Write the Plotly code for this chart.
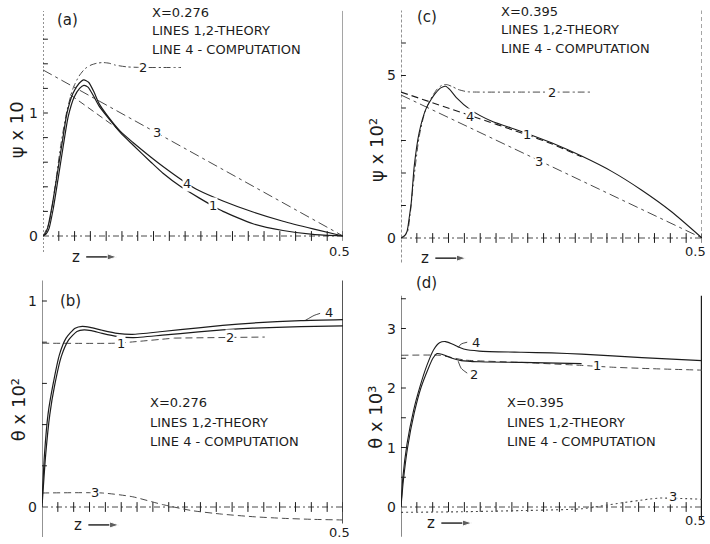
import plotly.graph_objects as go

W, H = 710, 544
FONT = "DejaVu Sans"
INK = "#1c1c1c"
GREY = "#4a4a4a"

# ---------------- data ----------------
# (a) psi x 10 at X = 0.276
a_z4 = [0, 0.004, 0.008, 0.015, 0.023, 0.032, 0.04, 0.05, 0.06, 0.068, 0.076, 0.085, 0.093, 0.107,
        0.129, 0.15, 0.18, 0.2, 0.236, 0.26, 0.3, 0.35, 0.4, 0.45, 0.5]
a_p4 = [0, 0.02, 0.07, 0.24, 0.48, 0.76, 1.0, 1.16, 1.24, 1.27, 1.25, 1.17, 1.08, 0.98,
        0.85, 0.76, 0.64, 0.565, 0.44, 0.37, 0.285, 0.195, 0.12, 0.058, 0]
a_z1 = [0, 0.005, 0.01, 0.017, 0.025, 0.034, 0.042, 0.052, 0.061, 0.068, 0.075, 0.084, 0.093, 0.107,
        0.129, 0.15, 0.18, 0.2, 0.23, 0.26, 0.283, 0.3, 0.35, 0.4, 0.45, 0.5]
a_p1 = [0, 0.015, 0.06, 0.22, 0.46, 0.74, 0.97, 1.13, 1.2, 1.225, 1.21, 1.14, 1.06, 0.97,
        0.84, 0.74, 0.6, 0.51, 0.4, 0.31, 0.245, 0.2, 0.1, 0.045, 0.013, 0]
a_z1o = [0.045, 0.125]
a_p1o = [1.15, 0.87]
a_z2 = [0, 0.01, 0.02, 0.03, 0.04, 0.05, 0.06, 0.07, 0.08, 0.09, 0.1, 0.11, 0.12, 0.14, 0.17, 0.2, 0.23]
a_p2 = [0, 0.1, 0.4, 0.75, 1.02, 1.2, 1.3, 1.36, 1.39, 1.405, 1.41, 1.405, 1.39, 1.375, 1.37, 1.37, 1.37]
a_z3 = [0, 0.5]
a_p3 = [1.35, 0]

# (c) psi x 10^2 at X = 0.395
c_z4 = [0, 0.005, 0.01, 0.014, 0.017, 0.022, 0.03, 0.041, 0.05, 0.057, 0.066, 0.074, 0.082, 0.092,
        0.115, 0.15, 0.2, 0.25, 0.3, 0.35, 0.4, 0.45, 0.5]
c_p4 = [0, 0.05, 0.2, 0.67, 1.08, 2.21, 3.23, 3.95, 4.26, 4.45, 4.62, 4.67, 4.55, 4.32,
        3.95, 3.6, 3.28, 2.93, 2.52, 2.05, 1.47, 0.8, 0]
c_z1 = [0, 0.115, 0.21, 0.25, 0.3]
c_p1 = [4.49, 3.77, 3.17, 2.9, 2.5]
c_z2 = [0, 0.01, 0.015, 0.02, 0.03, 0.04, 0.05, 0.06, 0.068, 0.076, 0.085, 0.095, 0.11, 0.13, 0.2, 0.25, 0.314]
c_p2 = [0, 0.15, 0.7, 1.6, 3.1, 3.9, 4.3, 4.58, 4.7, 4.72, 4.66, 4.57, 4.5, 4.49, 4.49, 4.49, 4.49]
c_z3 = [0, 0.5]
c_p3 = [4.4, 0]

# (b) theta x 10^2 at X = 0.276
b_z4 = [0, 0.004, 0.01, 0.018, 0.029, 0.04, 0.055, 0.067, 0.08, 0.1, 0.125, 0.15, 0.2, 0.26,
        0.3, 0.35, 0.43, 0.5]
b_t4 = [0.02, 0.25, 0.45, 0.59, 0.74, 0.82, 0.868, 0.877, 0.872, 0.858, 0.843, 0.838, 0.852, 0.87,
        0.882, 0.893, 0.905, 0.91]
b_z1 = [0, 0.006, 0.013, 0.021, 0.032, 0.044, 0.058, 0.07, 0.082, 0.1, 0.125, 0.15, 0.2, 0.26,
        0.3, 0.35, 0.43, 0.5]
b_t1 = [0, 0.25, 0.45, 0.59, 0.73, 0.81, 0.852, 0.86, 0.856, 0.843, 0.828, 0.822, 0.834, 0.85,
        0.86, 0.868, 0.876, 0.879]
b_z1o = [0, 0.12, 0.145, 0.22]
b_t1o = [0.795, 0.795, 0.8, 0.82]
b_z2 = [0.22, 0.37]
b_t2 = [0.82, 0.825]
b_z3 = [0, 0.1, 0.15, 0.2, 0.25, 0.3, 0.35, 0.4, 0.45, 0.5]
b_t3 = [0.068, 0.068, 0.05, 0.012, -0.018, -0.035, -0.047, -0.055, -0.06, -0.063]

# (d) theta x 10^3 at X = 0.395
d_z4 = [0, 0.003, 0.01, 0.021, 0.032, 0.043, 0.054, 0.064, 0.074, 0.085, 0.106, 0.13, 0.2, 0.25,
        0.3, 0.4, 0.5]
d_t4 = [0, 0.49, 1.06, 1.63, 2.04, 2.38, 2.64, 2.76, 2.78, 2.74, 2.65, 2.62, 2.6, 2.59,
        2.57, 2.51, 2.46]
d_z2 = [0, 0.004, 0.011, 0.022, 0.033, 0.045, 0.053, 0.06, 0.07, 0.085, 0.1, 0.13, 0.2, 0.3]
d_t2 = [0, 0.45, 1.0, 1.58, 2.0, 2.32, 2.5, 2.58, 2.56, 2.5, 2.46, 2.44, 2.43, 2.41]
d_z1 = [0, 0.065, 0.08, 0.106, 0.2, 0.3, 0.35, 0.4, 0.5]
d_t1 = [2.55, 2.55, 2.52, 2.47, 2.43, 2.38, 2.35, 2.33, 2.3]
d_z3 = [0, 0.1, 0.2, 0.3, 0.36, 0.41, 0.43, 0.475, 0.5]
d_t3 = [-0.09, -0.08, -0.06, -0.03, 0.06, 0.13, 0.15, 0.14, 0.13]

# axis tick positions and labels
a_yticks = [0.2, 0.4, 0.6, 0.8, 1.0, 1.2, 1.4, 1.6]
a_ylabels = {0: "0", 1: "1"}
c_yticks = [1, 2, 3, 4, 5, 6]
c_ylabels = {0: "0", 5: "5"}
b_yticks = [0.2, 0.4, 0.6, 0.8, 1.0]
b_ylabels = {0: "0", 1: "1"}
d_yticks = [0.5, 1, 1.5, 2, 2.5, 3, 3.5]
d_ylabels = {0: "0", 1: "1", 2: "2", 3: "3"}
z_grid = [0.5 * i / 19 for i in range(1, 20)]

headers = {
    "a": ["X=0.276", "LINES 1,2-THEORY", "LINE 4 - COMPUTATION"],
    "c": ["X=0.395", "LINES 1,2-THEORY", "LINE 4 - COMPUTATION"],
    "b": ["X=0.276", "LINES 1,2-THEORY", "LINE 4 - COMPUTATION"],
    "d": ["X=0.395", "LINES 1,2-THEORY", "LINE 4 - COMPUTATION"],
}

# ---------------- layout geometry (pixels) ----------------
geom = {
    "a": dict(l=43, r=343, y0=236, ppu=123.0, top=4, bot=266, n=1),
    "c": dict(l=401, r=702, y0=238, ppu=32.5, top=4, bot=266, n=2),
    "b": dict(l=42, r=343, y0=507, ppu=206.0, top=278, bot=544, n=3),
    "d": dict(l=401, r=702, y0=507, ppu=59.5, top=278, bot=544, n=4),
}

fig = go.Figure()
layout = dict(width=W, height=H, margin=dict(l=0, r=0, t=0, b=0),
              plot_bgcolor="white", paper_bgcolor="white", showlegend=False,
              font=dict(family=FONT, color=INK))
annotations = []


def axnames(n):
    s = "" if n == 1 else str(n)
    return "x" + s, "y" + s, "xaxis" + s, "yaxis" + s


for key, g in geom.items():
    xr, yr, xk, yk = axnames(g["n"])
    layout[xk] = dict(domain=[g["l"] / W, g["r"] / W], range=[0, 0.5], visible=False,
                      anchor=yr, fixedrange=True)
    layout[yk] = dict(domain=[1 - g["bot"] / H, 1 - g["top"] / H],
                      range=[(g["y0"] - g["bot"]) / g["ppu"], (g["y0"] - g["top"]) / g["ppu"]],
                      visible=False, anchor=xr, fixedrange=True)


def line(key, x, y, dash="solid", width=1.2, color=INK):
    xr, yr, _, _ = axnames(geom[key]["n"])
    fig.add_trace(go.Scatter(x=x, y=y, mode="lines", xaxis=xr, yaxis=yr, hoverinfo="skip",
                             cliponaxis=False,
                             line=dict(color=color, width=width, dash=dash, shape="spline",
                                       smoothing=0.6)))


def ticks(key, x, y, symbol, size=7):
    xr, yr, _, _ = axnames(geom[key]["n"])
    fig.add_trace(go.Scatter(x=x, y=y, mode="markers", xaxis=xr, yaxis=yr, hoverinfo="skip",
                             marker=dict(symbol=symbol, size=size,
                                         line=dict(color=INK, width=1))))


def arrow(key, x0, x1, y):
    # the little "z ->" direction arrow under each panel
    xr, yr, _, _ = axnames(geom[key]["n"])
    fig.add_trace(go.Scatter(x=[x0, x1], y=[y, y], mode="lines+markers", xaxis=xr, yaxis=yr,
                             hoverinfo="skip", cliponaxis=False,
                             line=dict(color=INK, width=1.4),
                             marker=dict(symbol=["circle", "arrow"], size=[0, 10],
                                         angleref="previous", color=INK)))


def text(key, x, y, s, size=13, xanchor="center", yanchor="middle", bg=None, **kw):
    xr, yr, _, _ = axnames(geom[key]["n"])
    d = dict(x=x, y=y, xref=xr, yref=yr, text=s, showarrow=False, xanchor=xanchor,
             yanchor=yanchor, font=dict(size=size, color=INK, family=FONT))
    if bg:
        d.update(bgcolor=bg, borderpad=0)
    d.update(kw)
    annotations.append(d)


def frame(key, ybot, ytop, yticks, ylabels, right_dash, right_w, right_c, left_dash, left_w,
          rtop, rbot):
    # left axis, right wall at z = 0.5, zero line with the computational grid marks
    line(key, [0, 0], [ybot, ytop], dash=left_dash, width=left_w, color=GREY)
    line(key, [0.5, 0.5], [rbot, rtop], dash=right_dash, width=right_w, color=right_c)
    line(key, [0, 0.5], [0, 0], dash="6px,3px,2px,3px", width=1, color=GREY)
    ticks(key, [0] * len(yticks), yticks, "line-ew", 7)
    ticks(key, z_grid, [0] * len(z_grid), "line-ns", 7)
    for v, s in ylabels.items():
        text(key, 0, v, s, size=14, xanchor="right", xshift=-3)


DASH_DOT = "7px,3px,2px,3px"
DASH = "7px,4px"
LONG_DASH = "10px,4px,3px,4px"

# ----- panel (a) -----
frame("a", -0.13, 1.83, a_yticks, a_ylabels, "solid", 1, GREY, "2px,2px", 1.2, 1.83, 0)
line("a", a_z3, a_p3, dash=LONG_DASH, width=1, color=GREY)
line("a", a_z2, a_p2, dash=DASH_DOT, width=1, color=GREY)
line("a", a_z1o, a_p1o, dash=DASH, width=1, color=GREY)
line("a", a_z1, a_p1, width=1.2)
line("a", a_z4, a_p4, width=1.2)
text("a", 0.167, 1.37, "2", bg="white")
text("a", 0.19, 0.84, "3", bg="white")
text("a", 0.24, 0.43, "4", bg="white")
text("a", 0.283, 0.245, "1", bg="white")

# ----- panel (c) -----
frame("c", -0.75, 7.0, c_yticks, c_ylabels, "4px,3px", 1, GREY, "3px,2px", 1.2, 7.0, 0)
line("c", c_z3, c_p3, dash=LONG_DASH, width=1, color=GREY)
line("c", c_z2, c_p2, dash=DASH_DOT, width=1, color=GREY)
line("c", c_z1, c_p1, dash=DASH, width=1.1, color=INK)
line("c", c_z4, c_p4, width=1.1)
text("c", 0.25, 4.49, "2", bg="white")
text("c", 0.23, 2.35, "3", bg="white")
text("c", 0.115, 3.74, "4", bg="white")
text("c", 0.21, 3.17, "1", bg="white")

# ----- panel (b) -----
frame("b", -0.146, 1.1, b_yticks, b_ylabels, "solid", 1.5, INK, "solid", 1.2, 1.1, -0.08)
line("b", b_z3, b_t3, dash=DASH, width=1, color=GREY)
line("b", b_z1o, b_t1o, dash=DASH, width=1, color=GREY)
line("b", b_z2, b_t2, dash=DASH, width=1, color=GREY)
line("b", b_z1, b_t1, width=1.2)
line("b", b_z4, b_t4, width=1.2)
line("b", [0.437, 0.452, 0.462], [0.905, 0.93, 0.94], width=0.8)
text("b", 0.131, 0.795, "1", bg="white")
text("b", 0.313, 0.822, "2", bg="white")
text("b", 0.088, 0.068, "3", bg="white")
text("b", 0.476, 0.945, "4")

# ----- panel (d) -----
frame("d", -0.5, 3.55, d_yticks, d_ylabels, "solid", 2.4, INK, "solid", 1.3, 3.55, -0.2)
line("d", d_z3, d_t3, dash="2px,3px", width=1.1, color=GREY)
line("d", d_z1, d_t1, dash=DASH, width=1, color=GREY)
line("d", d_z2, d_t2, width=1.1)
line("d", d_z4, d_t4, width=1.1)
line("d", [0.095, 0.1, 0.11], [2.68, 2.74, 2.77], width=0.8)
line("d", [0.095, 0.1, 0.11], [2.45, 2.33, 2.25], width=0.8)
text("d", 0.114, 2.77, "4", xanchor="left")
text("d", 0.112, 2.22, "2", xanchor="left")
text("d", 0.326, 2.37, "1", bg="white")
text("d", 0.452, 0.17, "3", bg="white")

# panel letters, headers, axis names
letters = {"a": ("(a)", 0.04, 1.76), "c": ("(c)", 0.043, 6.8),
           "b": ("(b)", 0.047, 1.0), "d": ("(d)", 0.043, 3.76)}
for key, (s, xv, yv) in letters.items():
    text(key, xv, yv, s, size=15)

hdr_pos = {"a": (0.178, 1.82, 0.152), "c": (0.163, 6.98, 0.575),
           "b": (0.176, 0.505, 0.094), "d": (0.173, 1.75, 0.325)}
for key, (x0, y0, dy) in hdr_pos.items():
    for i, s in enumerate(headers[key]):
        text(key, x0, y0 - i * dy, s, size=13, xanchor="left")

# rotated quantity names, offset to the left of each axis (pixels)
ylab = {"a": ("ψ x 10", 0.86, -27), "c": ("ψ x 10²", 2.71, -24),
        "b": ("θ x 10²", 0.47, -24), "d": ("θ x 10³", 1.5, -25)}
for key, (s, yv, dx) in ylab.items():
    text(key, 0, yv, s, size=18, textangle=-90, xshift=dx)

zlab = {"a": (0.055, -0.17), "c": (0.04, -0.62), "b": (0.06, -0.087), "d": (0.05, -0.27)}
for key, (xv, yv) in zlab.items():
    text(key, xv, yv, "z", size=15)
    arrow(key, xv + 0.017, xv + 0.068, yv)

half = {"a": (-0.13, -4), "c": (-0.43, -7), "b": (-0.126, -4), "d": (-0.22, -7)}
for key, (yv, dx) in half.items():
    text(key, 0.5, yv, "0.5", size=13, xshift=dx)

layout["annotations"] = annotations
fig.update_layout(**layout)
fig.write_html("out.html")
